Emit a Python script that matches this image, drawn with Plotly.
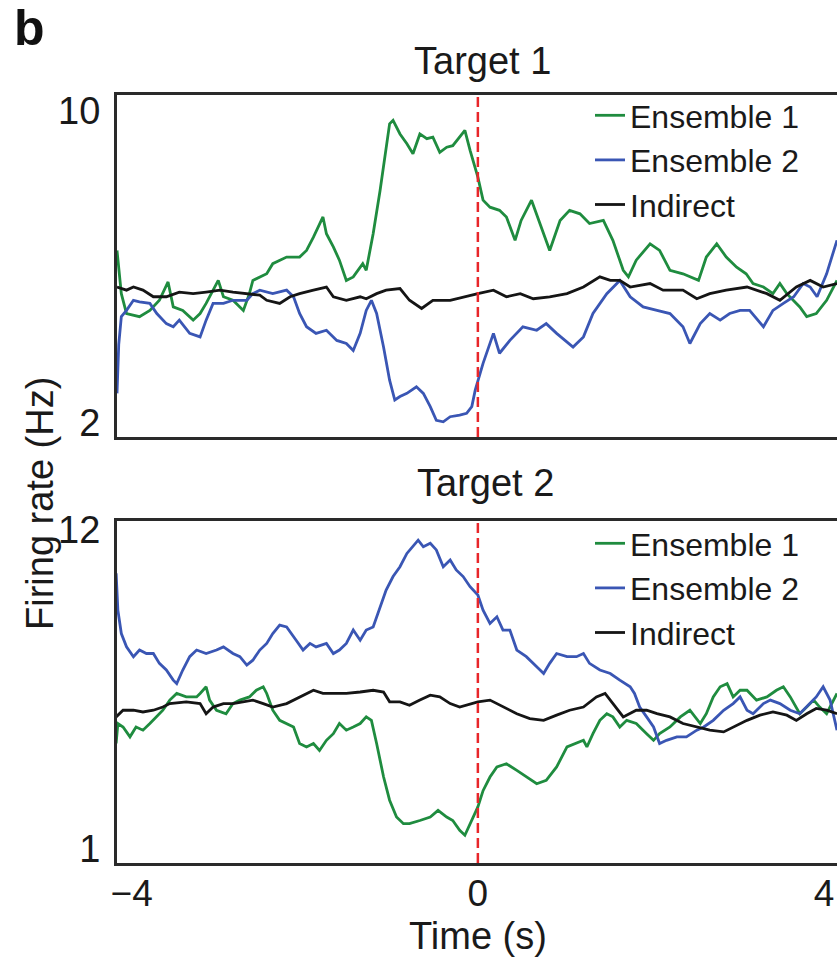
import plotly.graph_objects as go

# ---------------- data ----------------
# Target 1
t1_ens1 = [-4.17,-4.12,-4.06,-3.98,-3.91,-3.79,-3.68,-3.58,-3.52,-3.41,-3.29,-3.21,-3.14,-3.00,-2.94,-2.83,-2.71,-2.64,-2.60,-2.44,-2.37,-2.21,-2.06,-1.98,-1.90,-1.79,-1.75,-1.67,-1.60,-1.52,-1.44,-1.33,-1.29,-1.21,-1.13,-1.02,-0.98,-0.90,-0.82,-0.75,-0.67,-0.59,-0.52,-0.44,-0.36,-0.29,-0.21,-0.15,-0.09,0.00,
           0.06,0.14,0.25,0.33,0.43,0.50,0.62,0.72,0.83,0.95,1.06,1.18,1.29,1.45,1.56,1.68,1.74,1.83,1.99,2.10,2.22,2.37,2.55,2.64,2.76,2.87,2.99,3.10,3.18,3.30,3.41,3.49,3.57,3.72,3.80,3.91,4.03,4.15]
v1_ens1 = [6.42,5.31,4.80,4.76,4.72,4.88,5.14,5.61,4.97,4.88,4.63,4.80,5.06,5.65,5.23,5.14,4.88,5.31,5.65,5.82,6.08,6.25,6.25,6.42,6.76,7.28,6.85,6.51,6.17,5.65,5.74,6.08,5.91,6.85,7.96,9.67,9.76,9.41,9.16,8.90,9.41,9.29,9.33,8.94,9.07,9.11,9.33,9.50,8.99,8.30,
           7.71,7.53,7.45,7.28,6.68,7.19,7.71,7.11,6.42,7.19,7.45,7.36,7.11,7.19,6.68,5.91,5.74,6.17,6.59,6.42,5.91,5.82,5.65,6.25,6.59,6.25,5.99,5.82,5.57,5.48,5.31,5.57,5.31,4.97,4.72,4.80,5.14,5.65]

t1_ens2 = [-4.17,-4.15,-4.12,-4.06,-3.98,-3.91,-3.79,-3.71,-3.60,-3.52,-3.45,-3.33,-3.21,-3.14,-3.06,-2.94,-2.83,-2.67,-2.60,-2.52,-2.37,-2.21,-2.13,-2.06,-1.98,-1.87,-1.75,-1.63,-1.52,-1.44,-1.36,-1.29,-1.23,-1.17,-1.09,-1.02,-0.96,-0.90,-0.82,-0.71,-0.63,-0.55,-0.48,-0.40,-0.32,-0.21,-0.13,-0.07,-0.03,0.00,
           0.06,0.18,0.25,0.37,0.52,0.68,0.79,0.91,1.10,1.22,1.33,1.49,1.64,1.76,1.91,2.07,2.22,2.37,2.45,2.57,2.68,2.80,2.91,3.03,3.14,3.30,3.41,3.53,3.65,3.76,3.84,3.92,4.03,4.15]
v1_ens2 = [2.75,4.00,4.72,4.88,5.14,5.10,5.06,4.80,4.54,4.46,4.63,4.29,4.20,4.63,5.06,5.06,5.14,5.14,5.31,5.40,5.31,5.40,5.23,4.80,4.46,4.29,4.37,4.11,4.03,3.85,4.29,4.88,5.14,4.80,3.94,3.09,2.58,2.67,2.75,2.92,2.75,2.41,2.06,2.02,2.15,2.19,2.24,2.41,2.84,3.09,
           3.52,4.29,3.78,4.11,4.46,4.37,4.54,4.29,3.94,4.20,4.80,5.31,5.65,5.23,4.97,4.88,4.80,4.46,4.03,4.54,4.80,4.63,4.80,4.88,4.88,4.46,4.88,5.06,5.23,5.57,5.48,5.23,5.82,6.68]

t1_ind = [-4.17,-4.06,-3.98,-3.87,-3.75,-3.60,-3.45,-3.29,-3.14,-2.98,-2.83,-2.67,-2.52,-2.44,-2.29,-2.17,-2.06,-1.90,-1.75,-1.67,-1.52,-1.36,-1.29,-1.17,-1.06,-0.90,-0.79,-0.65,-0.52,-0.32,-0.13,0.00,
          0.18,0.33,0.49,0.64,0.83,1.03,1.22,1.41,1.53,1.64,1.76,1.99,2.14,2.37,2.53,2.68,2.87,3.11,3.34,3.49,3.68,3.84,3.99,4.15]
v1_ind = [5.48,5.40,5.48,5.40,5.23,5.23,5.35,5.31,5.35,5.40,5.35,5.31,5.27,5.14,5.06,5.23,5.31,5.40,5.48,5.23,5.14,5.23,5.18,5.31,5.40,5.44,5.14,4.93,5.14,5.14,5.23,5.31,
          5.40,5.23,5.31,5.18,5.23,5.31,5.48,5.74,5.65,5.65,5.48,5.57,5.40,5.40,5.18,5.31,5.40,5.48,5.31,5.14,5.48,5.65,5.48,5.57]

# Target 2
t2_ens1 = [-4.18,-4.16,-4.10,-4.02,-3.95,-3.87,-3.79,-3.71,-3.64,-3.56,-3.48,-3.37,-3.25,-3.21,-3.14,-3.10,-3.02,-2.91,-2.83,-2.75,-2.64,-2.56,-2.48,-2.44,-2.37,-2.29,-2.21,-2.13,-2.06,-1.98,-1.90,-1.83,-1.75,-1.67,-1.60,-1.52,-1.44,-1.36,-1.29,-1.23,-1.17,-1.09,-1.02,-0.94,-0.86,-0.79,-0.67,-0.55,-0.46,-0.36,-0.29,-0.21,-0.15,-0.09,0.00,
           0.06,0.14,0.22,0.33,0.45,0.56,0.68,0.79,0.91,1.03,1.14,1.22,1.26,1.33,1.41,1.49,1.56,1.64,1.72,1.83,1.95,2.03,2.10,2.22,2.34,2.45,2.57,2.64,2.72,2.80,2.88,2.95,3.03,3.11,3.22,3.34,3.45,3.53,3.61,3.72,3.80,3.88,3.95,4.03,4.15]
v2_ens1 = [4.62,5.31,5.19,4.85,5.19,5.08,5.31,5.54,5.77,6.12,6.35,6.23,6.23,6.35,6.58,6.12,5.77,5.65,6.00,6.12,6.23,6.46,6.58,6.35,5.77,5.42,5.31,5.19,4.62,4.50,4.62,4.38,4.73,4.96,5.31,5.08,5.19,5.31,5.54,5.42,4.62,3.47,2.66,2.08,1.85,1.85,1.96,2.08,2.31,2.08,1.96,1.62,1.45,1.85,2.43,
           2.99,3.46,3.81,3.92,3.69,3.46,3.23,3.35,3.81,4.50,4.62,4.73,4.50,4.96,5.42,5.65,5.54,5.19,5.42,5.31,4.96,4.73,4.96,5.19,5.54,5.77,5.31,5.65,6.23,6.58,6.69,6.23,6.46,6.46,6.12,6.23,6.46,6.58,6.23,5.65,5.88,6.12,5.88,5.65,6.35]

t2_ens2 = [-4.18,-4.16,-4.12,-4.06,-3.98,-3.91,-3.83,-3.75,-3.68,-3.60,-3.52,-3.48,-3.41,-3.33,-3.25,-3.14,-3.02,-2.94,-2.83,-2.75,-2.67,-2.60,-2.52,-2.44,-2.37,-2.29,-2.21,-2.15,-2.10,-2.02,-1.94,-1.87,-1.75,-1.67,-1.60,-1.52,-1.44,-1.36,-1.29,-1.21,-1.13,-1.06,-0.98,-0.90,-0.82,-0.75,-0.69,-0.63,-0.55,-0.48,-0.40,-0.32,-0.25,-0.17,-0.09,0.00,
           0.06,0.14,0.22,0.29,0.37,0.45,0.56,0.68,0.76,0.83,0.91,1.03,1.14,1.22,1.29,1.41,1.53,1.64,1.76,1.81,1.87,1.95,2.03,2.10,2.18,2.30,2.41,2.53,2.61,2.72,2.84,2.95,3.03,3.11,3.18,3.30,3.38,3.49,3.61,3.72,3.84,3.91,3.99,4.07,4.15]
v2_ens2 = [10.50,9.23,8.42,7.96,7.62,7.85,7.73,7.73,7.39,7.16,6.81,6.69,7.16,7.62,7.85,7.73,7.85,7.96,7.73,7.62,7.33,7.50,7.85,8.08,8.42,8.71,8.65,8.42,8.19,7.85,8.08,7.96,8.08,7.73,7.85,8.08,8.54,8.19,8.54,8.65,9.35,9.92,10.39,10.73,11.19,11.42,11.65,11.42,11.54,11.31,10.73,10.96,10.62,10.39,10.04,9.75,
           9.23,8.77,9.00,8.54,8.54,7.85,7.62,7.27,7.04,7.39,7.73,7.62,7.62,7.73,7.39,7.16,7.04,6.81,6.58,6.35,5.88,5.54,5.19,4.62,4.73,4.85,4.85,5.08,5.19,5.42,5.77,6.00,6.23,5.77,5.65,6.00,6.12,6.00,5.77,5.65,6.00,6.23,6.58,6.12,5.08]

t2_ind = [-4.18,-4.10,-3.98,-3.87,-3.75,-3.64,-3.56,-3.37,-3.21,-3.14,-3.06,-2.94,-2.83,-2.71,-2.60,-2.48,-2.37,-2.21,-2.06,-1.90,-1.79,-1.67,-1.52,-1.36,-1.21,-1.09,-1.02,-0.90,-0.79,-0.67,-0.55,-0.44,-0.32,-0.21,-0.13,0.00,
          0.14,0.29,0.45,0.60,0.76,0.91,1.06,1.22,1.37,1.47,1.56,1.68,1.83,1.95,2.07,2.22,2.37,2.53,2.68,2.84,2.95,3.11,3.26,3.41,3.57,3.68,3.80,3.91,4.03,4.15]
v2_ind = [5.54,5.77,5.77,5.71,5.77,5.88,6.00,6.06,6.00,5.65,5.88,6.00,6.00,6.06,6.12,6.00,5.88,6.00,6.23,6.46,6.35,6.35,6.35,6.40,6.46,6.40,6.06,6.06,5.94,6.12,6.29,6.23,6.00,5.88,5.94,6.06,
          6.12,5.88,5.65,5.48,5.42,5.60,5.77,5.88,6.23,6.35,6.00,5.54,5.77,5.77,5.65,5.54,5.31,5.19,5.08,5.02,5.19,5.42,5.60,5.71,5.60,5.42,5.65,5.83,5.77,5.65]

series_names = ["Ensemble 1", "Ensemble 2", "Indirect"]
panel_titles = ["Target 1", "Target 2"]
x_tick_vals = [-4, 0, 4]
x_tick_text = ["\u22124", "0", "4"]
y1_ticks = [2, 10]
y2_ticks = [1, 12]

# ---------------- styling ----------------
GREEN = "#1f8c3f"
BLUE = "#3a56b4"
BLACK = "#151515"
RED = "#e8262a"
FRAME = "#2a2a2a"
FONT = "Liberation Sans, Arial, Helvetica, sans-serif"
TXT = "#1a1a1a"
LW = 2.8

fig = go.Figure()

def add(t, v, name, color, xa, ya, legend):
    fig.add_trace(go.Scatter(x=t, y=v, name=name, mode="lines",
                             line=dict(color=color, width=LW),
                             xaxis=xa, yaxis=ya, legend=legend,
                             hoverinfo="skip"))

add(t1_ens1, v1_ens1, series_names[0], GREEN, "x", "y", "legend")
add(t1_ens2, v1_ens2, series_names[1], BLUE, "x", "y", "legend")
add(t1_ind, v1_ind, series_names[2], BLACK, "x", "y", "legend")
add(t2_ens1, v2_ens1, series_names[0], GREEN, "x2", "y2", "legend2")
add(t2_ens2, v2_ens2, series_names[1], BLUE, "x2", "y2", "legend2")
add(t2_ind, v2_ind, series_names[2], BLACK, "x2", "y2", "legend2")

W, H = 837, 958
L = 117
def px_x(px):
    return (px - L) / (W - L)
def px_y(py):
    return 1 - py / H

xcommon = dict(range=[-4.17, 4.15], showgrid=False, zeroline=False,
               showline=True, mirror=True, linecolor=FRAME, linewidth=3,
               ticks="", tickvals=x_tick_vals, ticktext=x_tick_text,
               tickfont=dict(family=FONT, size=37, color=TXT), fixedrange=True,
               automargin=False, ticklabelstandoff=-4)
ycommon = dict(showgrid=False, zeroline=False, showline=True, mirror=False,
               linecolor=FRAME, linewidth=3, ticks="",
               tickfont=dict(family=FONT, size=38, color=TXT),
               ticklabelstandoff=6, fixedrange=True, automargin=False)

legend_common = dict(font=dict(family=FONT, size=32, color=TXT),
                     bgcolor="rgba(0,0,0,0)", xanchor="left", yanchor="top",
                     tracegroupgap=0)

fig.update_layout(
    width=W, height=H,
    margin=dict(l=L, r=0, t=0, b=0, pad=0, autoexpand=False),
    paper_bgcolor="white", plot_bgcolor="white",
    showlegend=True,
    xaxis=dict(xcommon, anchor="y", domain=[0, 1], showticklabels=False),
    xaxis2=dict(xcommon, anchor="y2", domain=[0, 1], showticklabels=True),
    yaxis=dict(ycommon, anchor="x", domain=[px_y(437), px_y(95)],
               range=[1.63, 10.41], tickvals=y1_ticks),
    yaxis2=dict(ycommon, anchor="x2", domain=[px_y(863), px_y(521)],
                range=[0.49, 12.31], tickvals=y2_ticks),
    legend=dict(legend_common, x=px_x(590), y=px_y(88)),
    legend2=dict(legend_common, x=px_x(590), y=px_y(516)),
    shapes=[
        dict(type="line", xref="x", yref="y domain", x0=0, x1=0, y0=0, y1=1,
             line=dict(color=RED, width=2.5, dash="10px,5px"), layer="above"),
        dict(type="line", xref="x2", yref="y2 domain", x0=0, x1=0, y0=0, y1=1,
             line=dict(color=RED, width=2.5, dash="10px,5px"), layer="above"),
    ],
    annotations=[
        dict(text="<b>b</b>", xref="paper", yref="paper", x=px_x(12), y=px_y(28),
             xanchor="left", yanchor="middle", showarrow=False,
             font=dict(family=FONT, size=50, color="#111")),
        dict(text=panel_titles[0], xref="paper", yref="paper", x=px_x(482), y=px_y(61),
             xanchor="center", yanchor="middle", showarrow=False,
             font=dict(family=FONT, size=38, color=TXT)),
        dict(text=panel_titles[1], xref="paper", yref="paper", x=px_x(485), y=px_y(483),
             xanchor="center", yanchor="middle", showarrow=False,
             font=dict(family=FONT, size=38, color=TXT)),
        dict(text="Firing rate (Hz)", xref="paper", yref="paper", x=px_x(40), y=px_y(504),
             xanchor="center", yanchor="middle", textangle=-90, showarrow=False,
             font=dict(family=FONT, size=38, color=TXT)),
        dict(text="Time (s)", xref="paper", yref="paper", x=px_x(478), y=px_y(936),
             xanchor="center", yanchor="middle", showarrow=False,
             font=dict(family=FONT, size=38, color=TXT)),
    ],
)

fig.write_html("out.html", config=dict(displayModeBar=False, staticPlot=True))
